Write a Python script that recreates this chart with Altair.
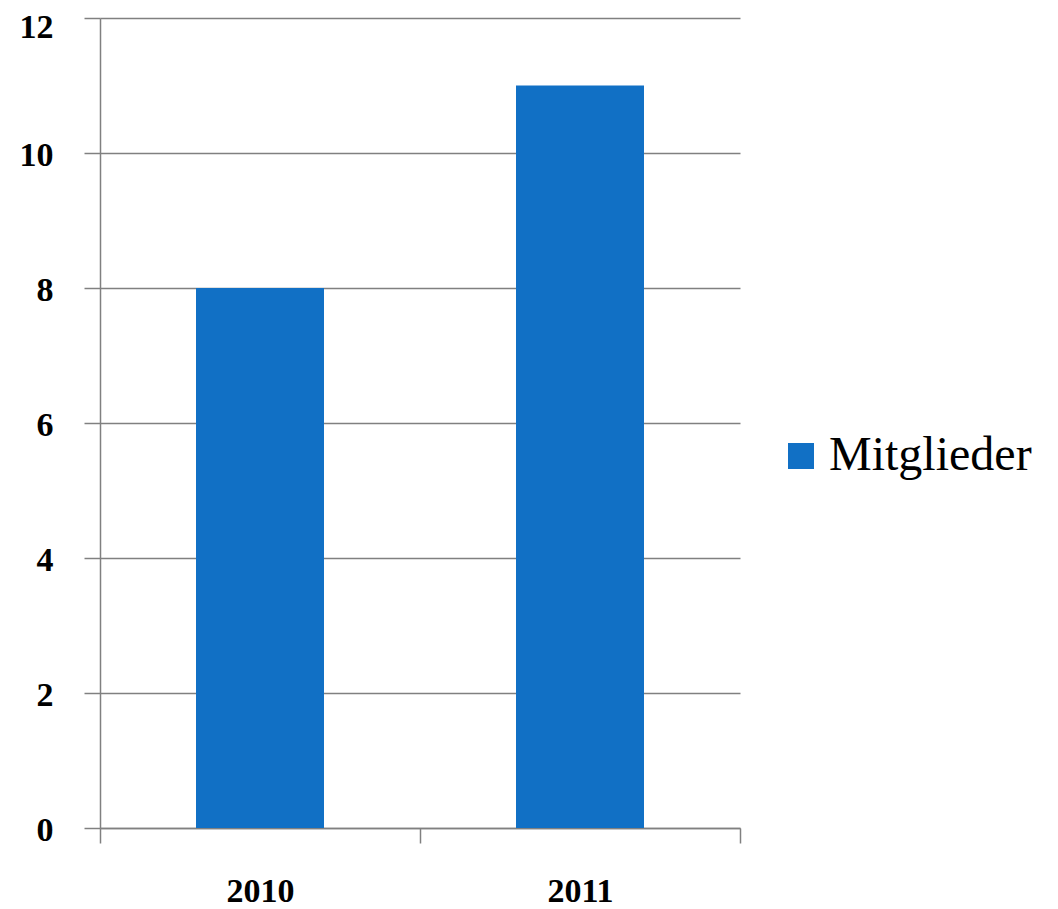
import altair as alt
import pandas as pd

years = ["2010", "2011"]
members = [8, 11]
series = ["Mitglieder", "Mitglieder"]

df = pd.DataFrame({"Jahr": years, "Wert": members, "Serie": series})

FONT = "Liberation Serif"
GRID = "#808080"
BAR = "#1170C5"

chart = alt.Chart(df).mark_bar(width=alt.RelativeBandSize(0.4)).encode(
    x=alt.X(
        "Jahr:N",
        sort=years,
        scale=alt.Scale(paddingInner=0, paddingOuter=0),
        axis=alt.Axis(
            title=None,
            labelAngle=0,
            tickBand="extent",
            tickSize=15,
            tickWidth=1.5,
            tickColor=GRID,
            domainColor=GRID,
            domainWidth=1.5,
            grid=False,
            labelFont=FONT,
            labelFontSize=34,
            labelFontWeight="bold",
            labelColor="black",
            labelPadding=31,
        ),
    ),
    y=alt.Y(
        "Wert:Q",
        scale=alt.Scale(domain=[0, 12], nice=False),
        axis=alt.Axis(
            title=None,
            values=[0, 2, 4, 6, 8, 10, 12],
            tickSize=16,
            tickWidth=1.5,
            tickColor=GRID,
            domainColor=GRID,
            domainWidth=1.5,
            grid=True,
            gridColor=GRID,
            gridWidth=1.5,
            gridOpacity=1,
            labelFont=FONT,
            labelFontSize=34,
            labelFontWeight="bold",
            labelColor="black",
            labelPadding=31,
            labelOffset={"condition": {"test": "datum.value == 12", "value": 9}, "value": 2},
        ),
    ),
    color=alt.Color(
        "Serie:N",
        scale=alt.Scale(domain=["Mitglieder"], range=[BAR]),
        legend=alt.Legend(
            title=None,
            orient="none",
            legendX=677,
            legendY=414,
            symbolType="square",
            symbolSize=676,
            symbolStrokeWidth=0,
            labelFont=FONT,
            labelFontSize=48,
            labelColor="black",
            labelOffset=4,
            labelLimit=0,
        ),
    ),
).properties(
    width=640,
    height=810,
    autosize=alt.AutoSizeParams(type="none"),
    padding={"left": 92, "top": 10, "right": 310, "bottom": 81},
    background="white",
).configure_view(stroke=None)

chart.save("out.html", embed_options={"renderer": "svg", "actions": False})
